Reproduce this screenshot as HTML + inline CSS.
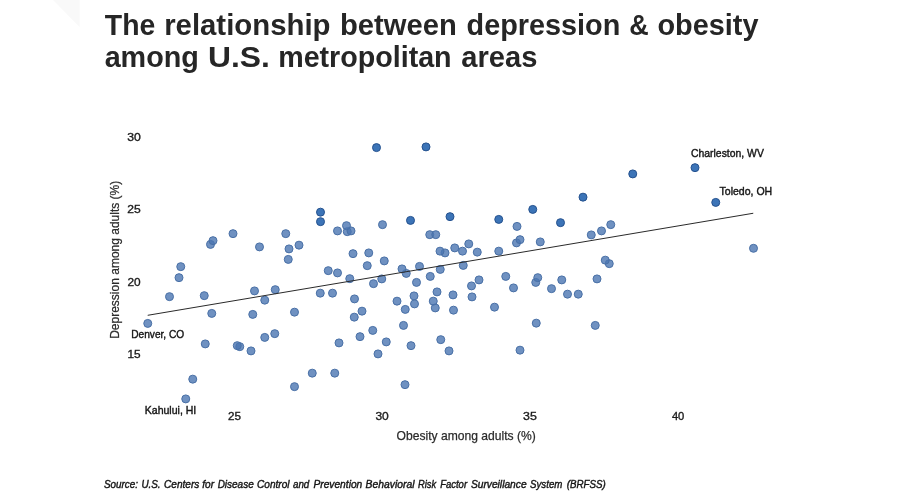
<!DOCTYPE html>
<html lang="en">
<head>
<meta charset="utf-8">
<title>The relationship between depression &amp; obesity among U.S. metropolitan areas</title>
<style>
html,body{margin:0;padding:0;background:#fff;}
body{width:898px;height:504px;overflow:hidden;}
svg{display:block;font-family:"Liberation Sans",sans-serif;}
.title{font-weight:700;font-size:29px;fill:#262626;}
.tick{font-size:11px;fill:#1c1c1c;stroke:#1c1c1c;stroke-width:.35px;}
.axis{font-size:13px;fill:#2b2b2b;stroke:#2b2b2b;stroke-width:.25px;}
.lbl{font-size:11px;fill:#151515;stroke:#151515;stroke-width:.4px;}
.src{font-size:10.5px;font-style:italic;fill:#151515;stroke:#151515;stroke-width:.4px;}
</style>
</head>
<body>
<svg width="898" height="504" viewBox="0 0 898 504" role="img" aria-label="Scatter plot of depression and obesity among U.S. metropolitan areas">
<rect width="898" height="504" fill="#ffffff"/>
<polygon points="53,0 79.6,0 79.6,27" fill="#f9f9f9"/>
<text class="title"><tspan x="104.84" y="34.8" textLength="50.44" lengthAdjust="spacingAndGlyphs">The</tspan> <tspan x="164.16" y="34.8" textLength="166.3" lengthAdjust="spacingAndGlyphs">relationship</tspan> <tspan x="339.98" y="34.8" textLength="116.74" lengthAdjust="spacingAndGlyphs">between</tspan> <tspan x="466.59" y="34.8" textLength="153.72" lengthAdjust="spacingAndGlyphs">depression</tspan> <tspan x="629.22" y="34.8" textLength="19.43" lengthAdjust="spacingAndGlyphs">&amp;</tspan> <tspan x="657.5" y="34.8" textLength="100.97" lengthAdjust="spacingAndGlyphs">obesity</tspan></text>
<text class="title"><tspan x="104.64" y="67.4" textLength="94.2" lengthAdjust="spacingAndGlyphs">among</tspan> <tspan x="207.97" y="67.4" textLength="61.84" lengthAdjust="spacingAndGlyphs">U.S.</tspan> <tspan x="278.21" y="67.4" textLength="173.4" lengthAdjust="spacingAndGlyphs">metropolitan</tspan> <tspan x="461.23" y="67.4" textLength="76.13" lengthAdjust="spacingAndGlyphs">areas</tspan></text>
<g>
<text class="tick" x="127.19" y="141.0" textLength="13.61" lengthAdjust="spacingAndGlyphs">30</text>
<text class="tick" x="127.3" y="213.2" textLength="13.44" lengthAdjust="spacingAndGlyphs">25</text>
<text class="tick" x="127.51" y="285.5" textLength="13.18" lengthAdjust="spacingAndGlyphs">20</text>
<text class="tick" x="127.49" y="357.6" textLength="13.14" lengthAdjust="spacingAndGlyphs">15</text>
<text class="tick" x="228.02" y="419.7" textLength="13.0" lengthAdjust="spacingAndGlyphs">25</text>
<text class="tick" x="375.4" y="419.7" textLength="13.39" lengthAdjust="spacingAndGlyphs">30</text>
<text class="tick" x="523.09" y="419.7" textLength="13.76" lengthAdjust="spacingAndGlyphs">35</text>
<text class="tick" x="671.9" y="419.7" textLength="12.46" lengthAdjust="spacingAndGlyphs">40</text>
</g>
<text class="axis" x="396.58" y="439.6" textLength="139.25" lengthAdjust="spacingAndGlyphs">Obesity among adults (%)</text>
<text class="axis" transform="translate(118.65 338.82) rotate(-90)" textLength="158.08" lengthAdjust="spacingAndGlyphs">Depression among adults (%)</text>
<g stroke-width="1">
<circle cx="185.75" cy="398.9" r="4" fill="#4b76b2" fill-opacity=".8" stroke="#4970a6"/>
<circle cx="294.5" cy="386.65" r="4" fill="#4b76b2" fill-opacity=".8" stroke="#4970a6"/>
<circle cx="405.0" cy="384.65" r="4" fill="#4b76b2" fill-opacity=".8" stroke="#4970a6"/>
<circle cx="192.75" cy="379.15" r="4" fill="#4b76b2" fill-opacity=".8" stroke="#4970a6"/>
<circle cx="312.25" cy="373.15" r="4" fill="#4b76b2" fill-opacity=".8" stroke="#4970a6"/>
<circle cx="334.75" cy="373.15" r="4" fill="#4b76b2" fill-opacity=".8" stroke="#4970a6"/>
<circle cx="378.0" cy="353.9" r="4" fill="#4b76b2" fill-opacity=".8" stroke="#4970a6"/>
<circle cx="251.0" cy="350.9" r="4" fill="#4b76b2" fill-opacity=".8" stroke="#4970a6"/>
<circle cx="449.0" cy="350.9" r="4" fill="#4b76b2" fill-opacity=".8" stroke="#4970a6"/>
<circle cx="520.0" cy="350.15" r="4" fill="#4b76b2" fill-opacity=".8" stroke="#4970a6"/>
<circle cx="239.75" cy="346.65" r="4" fill="#4b76b2" fill-opacity=".8" stroke="#4970a6"/>
<circle cx="237.25" cy="345.65" r="4" fill="#4b76b2" fill-opacity=".8" stroke="#4970a6"/>
<circle cx="411.0" cy="345.65" r="4" fill="#4b76b2" fill-opacity=".8" stroke="#4970a6"/>
<circle cx="205.25" cy="343.9" r="4" fill="#4b76b2" fill-opacity=".8" stroke="#4970a6"/>
<circle cx="339.0" cy="342.9" r="4" fill="#4b76b2" fill-opacity=".8" stroke="#4970a6"/>
<circle cx="386.25" cy="341.9" r="4" fill="#4b76b2" fill-opacity=".8" stroke="#4970a6"/>
<circle cx="440.75" cy="339.65" r="4" fill="#4b76b2" fill-opacity=".8" stroke="#4970a6"/>
<circle cx="264.75" cy="337.4" r="4" fill="#4b76b2" fill-opacity=".8" stroke="#4970a6"/>
<circle cx="360.0" cy="336.65" r="4" fill="#4b76b2" fill-opacity=".8" stroke="#4970a6"/>
<circle cx="274.75" cy="333.65" r="4" fill="#4b76b2" fill-opacity=".8" stroke="#4970a6"/>
<circle cx="372.75" cy="330.4" r="4" fill="#4b76b2" fill-opacity=".8" stroke="#4970a6"/>
<circle cx="403.5" cy="325.4" r="4" fill="#4b76b2" fill-opacity=".8" stroke="#4970a6"/>
<circle cx="595.25" cy="325.4" r="4" fill="#4b76b2" fill-opacity=".8" stroke="#4970a6"/>
<circle cx="147.75" cy="323.4" r="4" fill="#4b76b2" fill-opacity=".8" stroke="#4970a6"/>
<circle cx="536.25" cy="323.15" r="4" fill="#4b76b2" fill-opacity=".8" stroke="#4970a6"/>
<circle cx="354.25" cy="317.15" r="4" fill="#4b76b2" fill-opacity=".8" stroke="#4970a6"/>
<circle cx="252.75" cy="314.4" r="4" fill="#4b76b2" fill-opacity=".8" stroke="#4970a6"/>
<circle cx="211.75" cy="313.4" r="4" fill="#4b76b2" fill-opacity=".8" stroke="#4970a6"/>
<circle cx="294.5" cy="312.15" r="4" fill="#4b76b2" fill-opacity=".8" stroke="#4970a6"/>
<circle cx="362.0" cy="311.15" r="4" fill="#4b76b2" fill-opacity=".8" stroke="#4970a6"/>
<circle cx="453.5" cy="310.15" r="4" fill="#4b76b2" fill-opacity=".8" stroke="#4970a6"/>
<circle cx="405.25" cy="309.4" r="4" fill="#4b76b2" fill-opacity=".8" stroke="#4970a6"/>
<circle cx="435.25" cy="307.9" r="4" fill="#4b76b2" fill-opacity=".8" stroke="#4970a6"/>
<circle cx="494.5" cy="307.15" r="4" fill="#4b76b2" fill-opacity=".8" stroke="#4970a6"/>
<circle cx="414.5" cy="303.9" r="4" fill="#4b76b2" fill-opacity=".8" stroke="#4970a6"/>
<circle cx="397.0" cy="301.15" r="4" fill="#4b76b2" fill-opacity=".8" stroke="#4970a6"/>
<circle cx="433.25" cy="301.15" r="4" fill="#4b76b2" fill-opacity=".8" stroke="#4970a6"/>
<circle cx="264.75" cy="300.15" r="4" fill="#4b76b2" fill-opacity=".8" stroke="#4970a6"/>
<circle cx="354.5" cy="298.9" r="4" fill="#4b76b2" fill-opacity=".8" stroke="#4970a6"/>
<circle cx="472.0" cy="296.9" r="4" fill="#4b76b2" fill-opacity=".8" stroke="#4970a6"/>
<circle cx="169.5" cy="296.65" r="4" fill="#4b76b2" fill-opacity=".8" stroke="#4970a6"/>
<circle cx="414.0" cy="295.9" r="4" fill="#4b76b2" fill-opacity=".8" stroke="#4970a6"/>
<circle cx="204.25" cy="295.65" r="4" fill="#4b76b2" fill-opacity=".8" stroke="#4970a6"/>
<circle cx="453.0" cy="294.9" r="4" fill="#4b76b2" fill-opacity=".8" stroke="#4970a6"/>
<circle cx="567.5" cy="294.15" r="4" fill="#4b76b2" fill-opacity=".8" stroke="#4970a6"/>
<circle cx="578.25" cy="294.15" r="4" fill="#4b76b2" fill-opacity=".8" stroke="#4970a6"/>
<circle cx="320.25" cy="293.15" r="4" fill="#4b76b2" fill-opacity=".8" stroke="#4970a6"/>
<circle cx="332.5" cy="293.15" r="4" fill="#4b76b2" fill-opacity=".8" stroke="#4970a6"/>
<circle cx="437.0" cy="291.9" r="4" fill="#4b76b2" fill-opacity=".8" stroke="#4970a6"/>
<circle cx="254.5" cy="290.9" r="4" fill="#4b76b2" fill-opacity=".8" stroke="#4970a6"/>
<circle cx="275.25" cy="289.65" r="4" fill="#4b76b2" fill-opacity=".8" stroke="#4970a6"/>
<circle cx="551.5" cy="288.65" r="4" fill="#4b76b2" fill-opacity=".8" stroke="#4970a6"/>
<circle cx="513.5" cy="287.9" r="4" fill="#4b76b2" fill-opacity=".8" stroke="#4970a6"/>
<circle cx="471.5" cy="285.9" r="4" fill="#4b76b2" fill-opacity=".8" stroke="#4970a6"/>
<circle cx="373.5" cy="283.65" r="4" fill="#4b76b2" fill-opacity=".8" stroke="#4970a6"/>
<circle cx="416.5" cy="282.4" r="4" fill="#4b76b2" fill-opacity=".8" stroke="#4970a6"/>
<circle cx="535.75" cy="282.4" r="4" fill="#4b76b2" fill-opacity=".8" stroke="#4970a6"/>
<circle cx="479.0" cy="279.9" r="4" fill="#4b76b2" fill-opacity=".8" stroke="#4970a6"/>
<circle cx="561.75" cy="279.9" r="4" fill="#4b76b2" fill-opacity=".8" stroke="#4970a6"/>
<circle cx="381.75" cy="278.9" r="4" fill="#4b76b2" fill-opacity=".8" stroke="#4970a6"/>
<circle cx="597.0" cy="278.9" r="4" fill="#4b76b2" fill-opacity=".8" stroke="#4970a6"/>
<circle cx="349.75" cy="278.65" r="4" fill="#4b76b2" fill-opacity=".8" stroke="#4970a6"/>
<circle cx="179.0" cy="277.65" r="4" fill="#4b76b2" fill-opacity=".8" stroke="#4970a6"/>
<circle cx="537.75" cy="277.65" r="4" fill="#4b76b2" fill-opacity=".8" stroke="#4970a6"/>
<circle cx="430.25" cy="276.4" r="4" fill="#4b76b2" fill-opacity=".8" stroke="#4970a6"/>
<circle cx="505.75" cy="276.4" r="4" fill="#4b76b2" fill-opacity=".8" stroke="#4970a6"/>
<circle cx="406.25" cy="273.4" r="4" fill="#4b76b2" fill-opacity=".8" stroke="#4970a6"/>
<circle cx="337.5" cy="272.9" r="4" fill="#4b76b2" fill-opacity=".8" stroke="#4970a6"/>
<circle cx="328.25" cy="270.65" r="4" fill="#4b76b2" fill-opacity=".8" stroke="#4970a6"/>
<circle cx="440.25" cy="269.4" r="4" fill="#4b76b2" fill-opacity=".8" stroke="#4970a6"/>
<circle cx="402.0" cy="268.9" r="4" fill="#4b76b2" fill-opacity=".8" stroke="#4970a6"/>
<circle cx="180.75" cy="266.65" r="4" fill="#4b76b2" fill-opacity=".8" stroke="#4970a6"/>
<circle cx="419.5" cy="266.4" r="4" fill="#4b76b2" fill-opacity=".8" stroke="#4970a6"/>
<circle cx="367.25" cy="265.65" r="4" fill="#4b76b2" fill-opacity=".8" stroke="#4970a6"/>
<circle cx="463.25" cy="265.4" r="4" fill="#4b76b2" fill-opacity=".8" stroke="#4970a6"/>
<circle cx="609.25" cy="263.65" r="4" fill="#4b76b2" fill-opacity=".8" stroke="#4970a6"/>
<circle cx="384.25" cy="260.9" r="4" fill="#4b76b2" fill-opacity=".8" stroke="#4970a6"/>
<circle cx="605.25" cy="260.15" r="4" fill="#4b76b2" fill-opacity=".8" stroke="#4970a6"/>
<circle cx="288.25" cy="259.4" r="4" fill="#4b76b2" fill-opacity=".8" stroke="#4970a6"/>
<circle cx="353.0" cy="253.65" r="4" fill="#4b76b2" fill-opacity=".8" stroke="#4970a6"/>
<circle cx="445.0" cy="252.9" r="4" fill="#4b76b2" fill-opacity=".8" stroke="#4970a6"/>
<circle cx="368.75" cy="252.9" r="4" fill="#4b76b2" fill-opacity=".8" stroke="#4970a6"/>
<circle cx="477.25" cy="252.15" r="4" fill="#4b76b2" fill-opacity=".8" stroke="#4970a6"/>
<circle cx="440.0" cy="251.15" r="4" fill="#4b76b2" fill-opacity=".8" stroke="#4970a6"/>
<circle cx="462.5" cy="251.15" r="4" fill="#4b76b2" fill-opacity=".8" stroke="#4970a6"/>
<circle cx="498.75" cy="251.15" r="4" fill="#4b76b2" fill-opacity=".8" stroke="#4970a6"/>
<circle cx="289.0" cy="248.9" r="4" fill="#4b76b2" fill-opacity=".8" stroke="#4970a6"/>
<circle cx="753.5" cy="248.3" r="4" fill="#4b76b2" fill-opacity=".8" stroke="#4970a6"/>
<circle cx="454.75" cy="247.9" r="4" fill="#4b76b2" fill-opacity=".8" stroke="#4970a6"/>
<circle cx="259.5" cy="246.9" r="4" fill="#4b76b2" fill-opacity=".8" stroke="#4970a6"/>
<circle cx="299.0" cy="245.15" r="4" fill="#4b76b2" fill-opacity=".8" stroke="#4970a6"/>
<circle cx="210.5" cy="244.4" r="4" fill="#4b76b2" fill-opacity=".8" stroke="#4970a6"/>
<circle cx="468.75" cy="243.9" r="4" fill="#4b76b2" fill-opacity=".8" stroke="#4970a6"/>
<circle cx="516.5" cy="242.9" r="4" fill="#4b76b2" fill-opacity=".8" stroke="#4970a6"/>
<circle cx="540.25" cy="241.9" r="4" fill="#4b76b2" fill-opacity=".8" stroke="#4970a6"/>
<circle cx="213.0" cy="240.65" r="4" fill="#4b76b2" fill-opacity=".8" stroke="#4970a6"/>
<circle cx="520.0" cy="239.65" r="4" fill="#4b76b2" fill-opacity=".8" stroke="#4970a6"/>
<circle cx="591.25" cy="234.9" r="4" fill="#4b76b2" fill-opacity=".8" stroke="#4970a6"/>
<circle cx="429.75" cy="234.65" r="4" fill="#4b76b2" fill-opacity=".8" stroke="#4970a6"/>
<circle cx="435.75" cy="234.65" r="4" fill="#4b76b2" fill-opacity=".8" stroke="#4970a6"/>
<circle cx="233.0" cy="233.65" r="4" fill="#4b76b2" fill-opacity=".8" stroke="#4970a6"/>
<circle cx="285.75" cy="233.65" r="4" fill="#4b76b2" fill-opacity=".8" stroke="#4970a6"/>
<circle cx="347.25" cy="231.65" r="4" fill="#4b76b2" fill-opacity=".8" stroke="#4970a6"/>
<circle cx="337.5" cy="230.9" r="4" fill="#4b76b2" fill-opacity=".8" stroke="#4970a6"/>
<circle cx="351.0" cy="230.9" r="4" fill="#4b76b2" fill-opacity=".8" stroke="#4970a6"/>
<circle cx="601.5" cy="230.9" r="4" fill="#4b76b2" fill-opacity=".8" stroke="#4970a6"/>
<circle cx="517.0" cy="226.4" r="4" fill="#4b76b2" fill-opacity=".8" stroke="#4970a6"/>
<circle cx="346.5" cy="225.65" r="4" fill="#4b76b2" fill-opacity=".8" stroke="#4970a6"/>
<circle cx="382.5" cy="224.65" r="4" fill="#4b76b2" fill-opacity=".8" stroke="#4970a6"/>
<circle cx="610.75" cy="224.65" r="4" fill="#4b76b2" fill-opacity=".8" stroke="#4970a6"/>
<circle cx="560.5" cy="222.65" r="4" fill="#1a5caa" fill-opacity=".85" stroke="#25528f"/>
<circle cx="320.5" cy="221.65" r="4" fill="#1a5caa" fill-opacity=".85" stroke="#25528f"/>
<circle cx="410.5" cy="220.4" r="4" fill="#1a5caa" fill-opacity=".85" stroke="#25528f"/>
<circle cx="498.75" cy="219.4" r="4" fill="#1a5caa" fill-opacity=".85" stroke="#25528f"/>
<circle cx="450.0" cy="216.65" r="4" fill="#1a5caa" fill-opacity=".85" stroke="#25528f"/>
<circle cx="320.5" cy="212.15" r="4" fill="#1a5caa" fill-opacity=".85" stroke="#25528f"/>
<circle cx="532.75" cy="209.4" r="4" fill="#1a5caa" fill-opacity=".85" stroke="#25528f"/>
<circle cx="715.75" cy="202.4" r="4" fill="#1a5caa" fill-opacity=".85" stroke="#25528f"/>
<circle cx="583.0" cy="197.15" r="4" fill="#1a5caa" fill-opacity=".85" stroke="#25528f"/>
<circle cx="632.75" cy="173.9" r="4" fill="#1a5caa" fill-opacity=".85" stroke="#25528f"/>
<circle cx="695.0" cy="167.65" r="4" fill="#1a5caa" fill-opacity=".85" stroke="#25528f"/>
<circle cx="376.5" cy="147.6" r="4" fill="#1a5caa" fill-opacity=".85" stroke="#25528f"/>
<circle cx="426.0" cy="146.9" r="4" fill="#1a5caa" fill-opacity=".85" stroke="#25528f"/>
</g>
<line x1="147.7" y1="315.3" x2="753.25" y2="213.25" stroke="#2a2a2a" stroke-width="1"/>
<g>
<text class="lbl" x="691.02" y="157.1" textLength="72.81" lengthAdjust="spacingAndGlyphs">Charleston, WV</text>
<text class="lbl" x="719.52" y="194.6" textLength="52.71" lengthAdjust="spacingAndGlyphs">Toledo, OH</text>
<text class="lbl" x="131.19" y="338.4" textLength="53.04" lengthAdjust="spacingAndGlyphs">Denver, CO</text>
<text class="lbl" x="144.76" y="414.0" textLength="51.54" lengthAdjust="spacingAndGlyphs">Kahului, HI</text>
</g>
<text class="src"><tspan x="104.03" y="488.2" textLength="34.02" lengthAdjust="spacingAndGlyphs">Source:</tspan> <tspan x="141.39" y="488.2" textLength="19.22" lengthAdjust="spacingAndGlyphs">U.S.</tspan> <tspan x="164.01" y="488.2" textLength="35.28" lengthAdjust="spacingAndGlyphs">Centers</tspan> <tspan x="202.3" y="488.2" textLength="11.79" lengthAdjust="spacingAndGlyphs">for</tspan> <tspan x="217.64" y="488.2" textLength="36.08" lengthAdjust="spacingAndGlyphs">Disease</tspan> <tspan x="257.01" y="488.2" textLength="32.55" lengthAdjust="spacingAndGlyphs">Control</tspan> <tspan x="292.99" y="488.2" textLength="16.32" lengthAdjust="spacingAndGlyphs">and</tspan> <tspan x="313.43" y="488.2" textLength="48.85" lengthAdjust="spacingAndGlyphs">Prevention</tspan> <tspan x="365.62" y="488.2" textLength="48.91" lengthAdjust="spacingAndGlyphs">Behavioral</tspan> <tspan x="418.06" y="488.2" textLength="18.08" lengthAdjust="spacingAndGlyphs">Risk</tspan> <tspan x="440.15" y="488.2" textLength="26.92" lengthAdjust="spacingAndGlyphs">Factor</tspan> <tspan x="470.92" y="488.2" textLength="55.67" lengthAdjust="spacingAndGlyphs">Surveillance</tspan> <tspan x="530.04" y="488.2" textLength="32.35" lengthAdjust="spacingAndGlyphs">System</tspan> <tspan x="566.8" y="488.2" textLength="39.05" lengthAdjust="spacingAndGlyphs">(BRFSS)</tspan></text>
</svg>
</body>
</html>
